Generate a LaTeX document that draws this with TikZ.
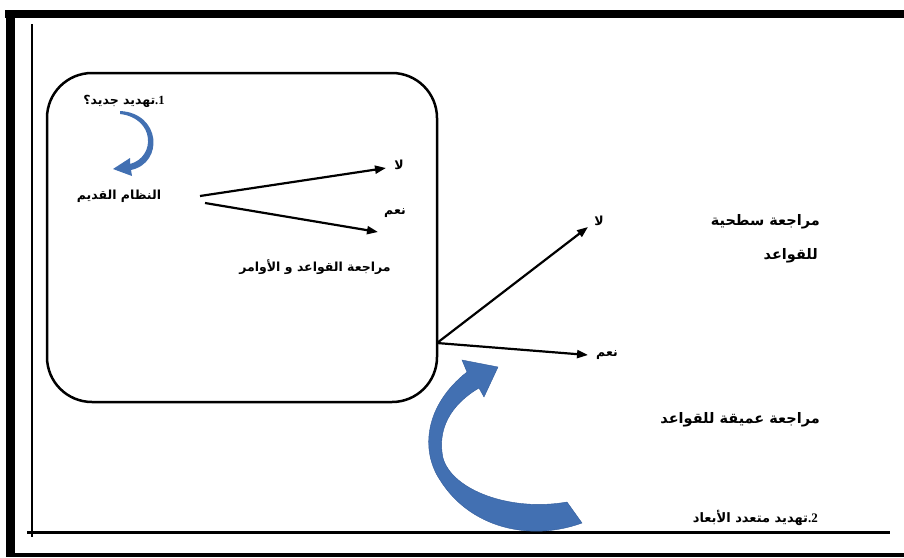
\documentclass[tikz,border=0pt]{standalone}
\usepackage{fontspec}
\TeXXeTstate=1
\newfontfamily\arabicfont[Script=Arabic]{DejaVu Sans}
\newfontfamily\numfont{Liberation Serif}
\usetikzlibrary{arrows.meta}
\definecolor{ppblue}{RGB}{66,112,178}
\definecolor{ppdark}{RGB}{50,92,155}
\newcommand{\numlbl}[1]{{\numfont\bfseries #1}}
\begin{document}
\begin{tikzpicture}[x=1pt,y=-1pt,
  ar/.style={font=\arabicfont\bfseries\fontsize{12.5}{14}\selectfont, inner sep=0pt},
  arbig/.style={font=\arabicfont\bfseries\fontsize{14.5}{17}\selectfont, inner sep=0pt, anchor=east},
  link/.style={line width=2.2pt, -{Triangle[length=11pt,width=8pt]}},
  blueshape/.style={fill=ppblue, draw=ppdark, line width=0.4pt}
]
\useasboundingbox (0,0) rectangle (904,557);
% outer frame
\fill (5,10) rectangle (904,18);
\fill (6,10) rectangle (15,557);
\fill (15,553) rectangle (904,557);
% axes
\draw[line width=2.5pt] (32,24) -- (32,537);
\draw[line width=3pt] (27,532) -- (890,532);
% rounded box
\node[draw, line width=2.5pt, rounded corners=45pt, minimum width=390pt, minimum height=329pt, inner sep=0pt] (box) at (242,237.5) {};
% texts inside box
\node[ar] (q1) at (124,101) {\beginR تهديد جديد؟\endR\numlbl{.1}};
\node[ar] (old) at (119,196) {\beginR النظام القديم\endR};
\node[ar] (no1) at (399,165) {\beginR لا\endR};
\node[ar] (yes1) at (395,213) {\beginR نعم\endR};
\node[ar] (rules) at (315,267) {\beginR مراجعة القواعد و الأوامر\endR};
% small curved arrow
\fill[ppblue] (120,111) .. controls (161,113) and (164,163) .. (131,170) -- (132,176) -- (113,169) -- (130,158) -- (130,164) .. controls (156,157) and (155,118) .. (120,114) -- cycle;
% arrows in box
\coordinate (o1) at (200,196);
\coordinate (o2) at (205,203);
\coordinate (e1) at (386,168);
\coordinate (e2) at (378,232);
\draw[link] (o1) -- (e1);
\draw[link] (o2) -- (e2);
% arrows out of box
\coordinate (hub) at (437,343);
\coordinate (e3) at (588,227);
\coordinate (e4) at (588,355);
\draw[link] (hub) -- (e3);
\draw[link] (hub) -- (e4);
\node[ar] (no2) at (599,221) {\beginR لا\endR};
\node[ar] (yes2) at (607,355) {\beginR نعم\endR};
% right texts
\node[arbig] (shallow) at (820,222) {\beginR مراجعة سطحية\endR};
\node[arbig] (shallow2) at (818,256) {\beginR للقواعد\endR};
\node[arbig] (deep) at (820,420) {\beginR مراجعة عميقة للقواعد\endR};
\node[ar, anchor=east, font=\arabicfont\bfseries\fontsize{13}{15}\selectfont] (q2) at (818,518) {\beginR تهديد متعدد الأبعاد\endR\numlbl{.2}};
% big curved arrow
\path[blueshape] (582,523) .. controls (530,542) and (470,528) .. (440,480)
  .. controls (420,450) and (425,405) .. (467,372)
  -- (462,360) -- (498,367) -- (484,397) -- (479,388)
  .. controls (450,405) and (437,430) .. (443,458)
  .. controls (452,490) and (510,512) .. (567,502) -- cycle;
\end{tikzpicture}
\end{document}
